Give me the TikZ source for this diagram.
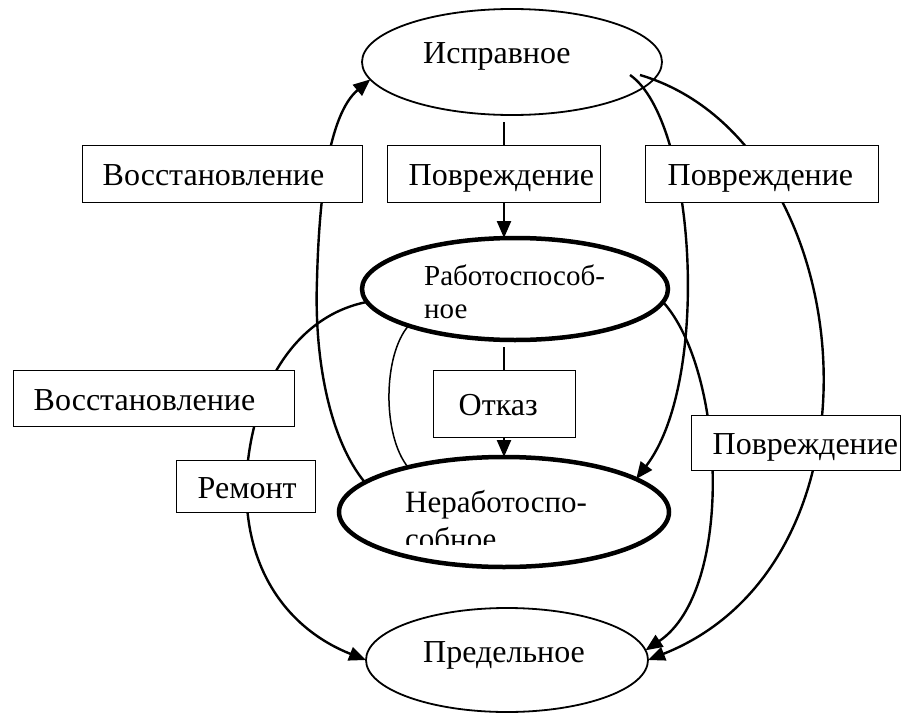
\documentclass[tikz,border=0pt]{standalone}
\usepackage{fontspec}
\setmainfont{Liberation Serif}
\usetikzlibrary{arrows.meta,calc,shapes.geometric}
\begin{document}
\begin{tikzpicture}[x=1pt,y=-1pt,
  st/.style={ellipse,draw,line width=1.8pt,inner sep=0pt,outer sep=0pt},
  stthick/.style={st,line width=4.5pt},
  lbl/.style={anchor=base west,inner sep=0pt,align=left},
  box/.style={draw,fill=white,line width=1.4pt,anchor=north west,align=left,
    font=\fontsize{32}{36}\selectfont,text height=23pt,text depth=0pt,inner ysep=0pt},
  conn/.style={line width=2.4pt,-{Triangle[length=17pt,width=14pt]}},
  thin/.style={line width=1.5pt},
]
\useasboundingbox (0,0) rectangle (914,715);

% states
\node[st,minimum width=300pt,minimum height=106pt] (ispr) at (512,62) {};
\node[stthick,minimum width=306pt,minimum height=102pt] (rab) at (515,289) {};
\node[stthick,minimum width=330pt,minimum height=110pt] (nerab) at (504,512) {};
\node[st,minimum width=282pt,minimum height=104pt] (pred) at (507,660) {};

\node[lbl,font=\fontsize{32}{36}\selectfont] (ispr-t) at (423,63) {Исправное};
\node[lbl,font=\fontsize{29}{33}\selectfont] (rab-t) at (424,318) {Работоспособ-\\ное};
\begin{scope}
  \clip (300,440) rectangle (700,544);
  \node[lbl,font=\fontsize{31}{37}\selectfont] (nerab-t) at (405,549) {Неработоспо-\\собное};
\end{scope}
\node[lbl,font=\fontsize{32}{36}\selectfont] (pred-t) at (423,662) {Предельное};

% connectors
\draw[conn] ([xshift=-8pt,yshift=-7pt]ispr.south) -- ([xshift=-11pt]rab.north);
\draw[conn] ([xshift=-11pt,yshift=-7pt]rab.south) -- (nerab.north);

\draw[conn] (nerab.168.8) .. controls (330,440) and (314,360) .. (317,280)
  .. controls (319,200) and (328,115) .. (ispr.-173.7);
\draw[conn] (rab.-175) .. controls (300,315) and (255,380) .. (247,470)
  .. controls (240,570) and (290,630) .. (pred.west);
\draw[thin] (rab.-161.4) .. controls (383,355) and (382,435) .. (nerab.155.4);
\draw[conn] ($(ispr.center)+(118,13)$) .. controls (695,120) and (712,380) .. (nerab.14.85);
\draw[conn] ($(ispr.center)+(128,13)$) .. controls (860,140) and (900,560) .. (pred.0);
\draw[conn] (rab.-5) .. controls (725,370) and (735,590) .. (pred.4);

% labels on connectors
\node[box,minimum width=280pt,minimum height=57pt,text width=240pt,inner xsep=20pt] (b1) at (82,145) {Восстановление};
\node[box,minimum width=213pt,minimum height=57pt,text width=171pt,inner xsep=21pt] (b2) at (387,145) {Повреждение};
\node[box,minimum width=233pt,minimum height=57pt,text width=189pt,inner xsep=22pt] (b3) at (645,145) {Повреждение};
\node[box,minimum width=281pt,minimum height=56pt,text width=241pt,inner xsep=20pt] (b4) at (13,370) {Восстановление};
\node[box,minimum width=139pt,minimum height=52pt,text width=97pt,inner xsep=21pt] (b5) at (176,460) {Ремонт};
\node[box,minimum width=142pt,minimum height=67pt,text width=92pt,inner xsep=25pt] (b6) at (433,370) {Отказ};
\node[box,minimum width=209pt,minimum height=55pt,text width=167pt,inner xsep=21pt] (b7) at (691,415) {Повреждение};
\end{tikzpicture}
\end{document}
